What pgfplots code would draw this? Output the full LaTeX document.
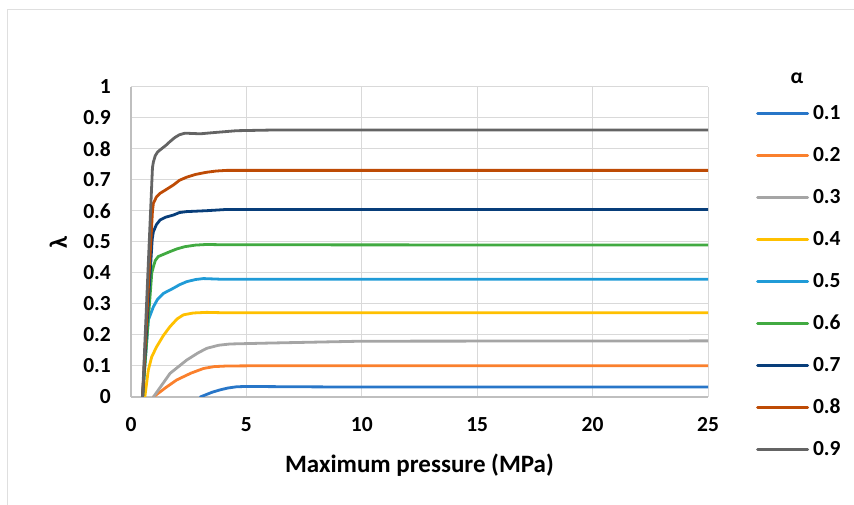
\documentclass[border=0pt]{standalone}
\usepackage{pgfplots}
\pgfplotsset{compat=1.18}
\usepackage{fontspec}
\setmainfont{Carlito}
\definecolor{c1}{RGB}{40,118,200}
\definecolor{c2}{RGB}{250,128,45}
\definecolor{c3}{RGB}{165,165,165}
\definecolor{c4}{RGB}{255,192,0}
\definecolor{c5}{RGB}{32,155,215}
\definecolor{c6}{RGB}{65,170,65}
\definecolor{c7}{RGB}{8,62,122}
\definecolor{c8}{RGB}{190,75,5}
\definecolor{c9}{RGB}{100,100,100}
\definecolor{gridc}{RGB}{217,217,217}
\definecolor{axc}{RGB}{191,191,191}
\newcommand{\tfont}{\fontsize{21.5bp}{22bp}\selectfont\bfseries}
\begin{document}
\begin{tikzpicture}[x=1bp,y=1bp]
\draw[gray!25,line width=1bp] (7.5,-20) rectangle (880,495);
\begin{axis}[
  at={(131bp,108bp)}, anchor=south west,
  scale only axis, width=577bp, height=310bp,
  xmin=0, xmax=25, ymin=0, ymax=1,
  xtick={0,5,10,15,20,25},
  xticklabels={0,5,10,15,20,25},
  ytick={0,0.1,0.2,0.3,0.4,0.5,0.6,0.7,0.8,0.9,1},
  yticklabels={0,0.1,0.2,0.3,0.4,0.5,0.6,0.7,0.8,0.9,1},
  grid=major,
  grid style={gridc, line width=1bp},
  major tick length=0pt,
  separate axis lines,
  axis x line*=bottom, axis y line*=left,
  axis line style={axc, line width=1.2bp, -},
  /pgf/number format/assume math mode=true,
  xticklabel style={font=\tfont, text=black, inner sep=0pt, anchor=north, yshift=-20bp},
  yticklabel style={font=\tfont, text=black, inner sep=0pt, anchor=east, xshift=-20bp},
  xlabel={Maximum pressure (MPa)},
  ylabel={λ},
  every axis x label/.style={at={(rel axis cs:0.5,-0.219)}, anchor=center, font=\bfseries\fontsize{25bp}{25bp}\selectfont},
  every axis y label/.style={at={(rel axis cs:-0.126,0.5)}, anchor=center, rotate=90, font=\bfseries\fontsize{25bp}{25bp}\selectfont},
  legend image code/.code={\draw[#1] (0bp,0bp)--(50bp,0bp);},
  legend style={at={(rel axis cs:1.0832,0.945)}, anchor=north west, draw=none, fill=none, inner sep=0pt,
    row sep=23bp, column sep=4bp,
    nodes={inner sep=0pt, text height=15bp, text depth=4bp, font=\tfont}},
  legend cell align=left,
  every axis plot/.append style={line width=2.8bp, line join=round, line cap=round},
]
\addplot[c1] coordinates {(3,0) (3.5,0.015) (3.86,0.023) (4.2,0.029) (4.58,0.033) (5,0.034) (7,0.033) (10,0.032) (25,0.032)};
\addlegendentry{0.1}
\addplot[c2] coordinates {(0.97,0) (1.5,0.03) (1.98,0.055) (2.6,0.077) (3.14,0.092) (3.6,0.098) (4.15,0.1) (6,0.101) (25,0.101)};
\addlegendentry{0.2}
\addplot[c3] coordinates {(0.97,0) (1.69,0.076) (2.41,0.119) (2.9,0.142) (3.28,0.157) (3.8,0.167) (4.29,0.171) (6,0.174) (10,0.18) (25,0.181)};
\addlegendentry{0.3}
\addplot[c4] coordinates {(0.6,0) (0.75,0.087) (0.9,0.13) (1.11,0.162) (1.4,0.198) (1.69,0.227) (2.0,0.252) (2.27,0.265) (2.7,0.271) (3.28,0.273) (3.86,0.272) (25,0.272)};
\addlegendentry{0.4}
\addplot[c5] coordinates {(0.5,0) (0.75,0.248) (0.97,0.291) (1.15,0.315) (1.4,0.334) (1.84,0.351) (2.1,0.362) (2.41,0.372) (2.8,0.379) (3.14,0.382) (3.86,0.38) (25,0.38)};
\addlegendentry{0.5}
\addplot[c6] coordinates {(0.5,0) (0.9,0.4) (0.97,0.42) (1.05,0.44) (1.18,0.453) (1.69,0.469) (2.0,0.478) (2.34,0.485) (2.8,0.49) (3.28,0.492) (4,0.491) (25,0.49)};
\addlegendentry{0.6}
\addplot[c7] coordinates {(0.5,0) (0.92,0.51) (0.97,0.533) (1.1,0.556) (1.26,0.571) (1.5,0.58) (1.84,0.587) (2.1,0.595) (2.41,0.598) (3.28,0.601) (4.15,0.605) (25,0.605)};
\addlegendentry{0.7}
\addplot[c8] coordinates {(0.5,0) (0.93,0.6) (0.97,0.625) (1.1,0.645) (1.26,0.657) (1.5,0.668) (1.84,0.684) (2.1,0.699) (2.41,0.709) (2.8,0.718) (3.28,0.725) (3.7,0.729) (4.15,0.731) (25,0.731)};
\addlegendentry{0.8}
\addplot[c9] coordinates {(0.5,0) (0.93,0.74) (0.97,0.758) (1.05,0.778) (1.15,0.79) (1.26,0.797) (1.5,0.811) (1.69,0.824) (1.9,0.837) (2.1,0.846) (2.34,0.851) (3.0,0.849) (3.6,0.853) (4.58,0.859) (6,0.861) (25,0.861)};
\addlegendentry{0.9}
\end{axis}
\node[font=\tfont] at (797bp,505bp-78bp) {α};
\pgfresetboundingbox
\useasboundingbox (0,0) rectangle (854,505);
\end{tikzpicture}
\end{document}
